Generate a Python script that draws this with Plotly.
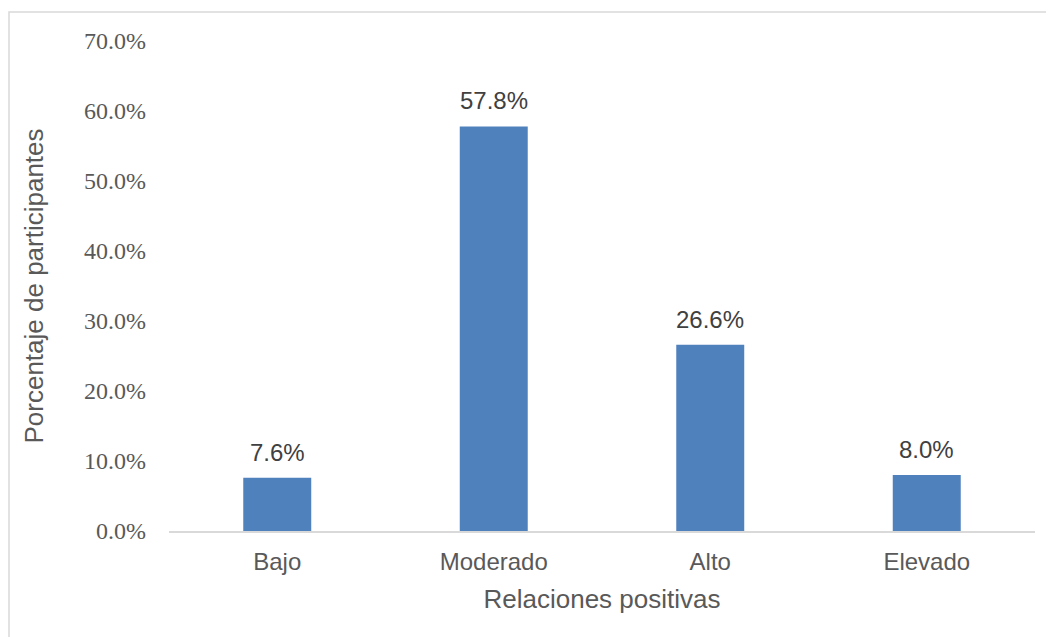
import plotly.graph_objects as go

categories = ["Bajo", "Moderado", "Alto", "Elevado"]
values = [7.6, 57.8, 26.6, 8.0]
value_labels = ["7.6%", "57.8%", "26.6%", "8.0%"]
y_ticks = [0, 10, 20, 30, 40, 50, 60, 70]
y_tick_labels = ["0.0%", "10.0%", "20.0%", "30.0%", "40.0%", "50.0%", "60.0%", "70.0%"]

fig = go.Figure(go.Bar(
    x=categories, y=values,
    marker=dict(color="#4F81BD", line=dict(width=0)),
))

annotations = [
    dict(x=c, y=v, text=t, xref="x", yref="y", showarrow=False,
         yanchor="bottom", yshift=10,
         font=dict(family="Liberation Sans, Arial", size=24, color="#404040"))
    for c, v, t in zip(categories, values, value_labels)
]

fig.update_layout(
    width=1046, height=629,
    margin=dict(l=161, r=19, t=33, b=106),
    plot_bgcolor="white", paper_bgcolor="white",
    bargap=0.686,
    showlegend=False,
    annotations=annotations,
    shapes=[dict(type="rect", xref="paper", yref="paper",
                 x0=-160/866, x1=1.2, y0=-0.5, y1=1 + 29/490,
                 line=dict(color="#D9D9D9", width=1.5), layer="below")],
)
fig.update_xaxes(
    showline=True, linecolor="#D9D9D9", linewidth=2,
    ticks="", showgrid=False,
    ticklabelstandoff=8,
    tickfont=dict(family="Liberation Sans, Arial", size=24, color="#595959"),
    title=dict(text="Relaciones positivas", standoff=16,
               font=dict(family="Liberation Sans, Arial", size=26, color="#595959")),
)
fig.update_yaxes(
    range=[0, 70], tickvals=y_ticks, ticktext=y_tick_labels,
    showgrid=False, zeroline=False, showline=False, ticks="",
    ticklabelstandoff=22,
    tickfont=dict(family="Liberation Serif, Cambria, serif", size=24, color="#595959"),
    title=dict(text="Porcentaje de participantes", standoff=32,
               font=dict(family="Liberation Sans, Arial", size=26, color="#595959")),
)

fig.write_html("out.html")
